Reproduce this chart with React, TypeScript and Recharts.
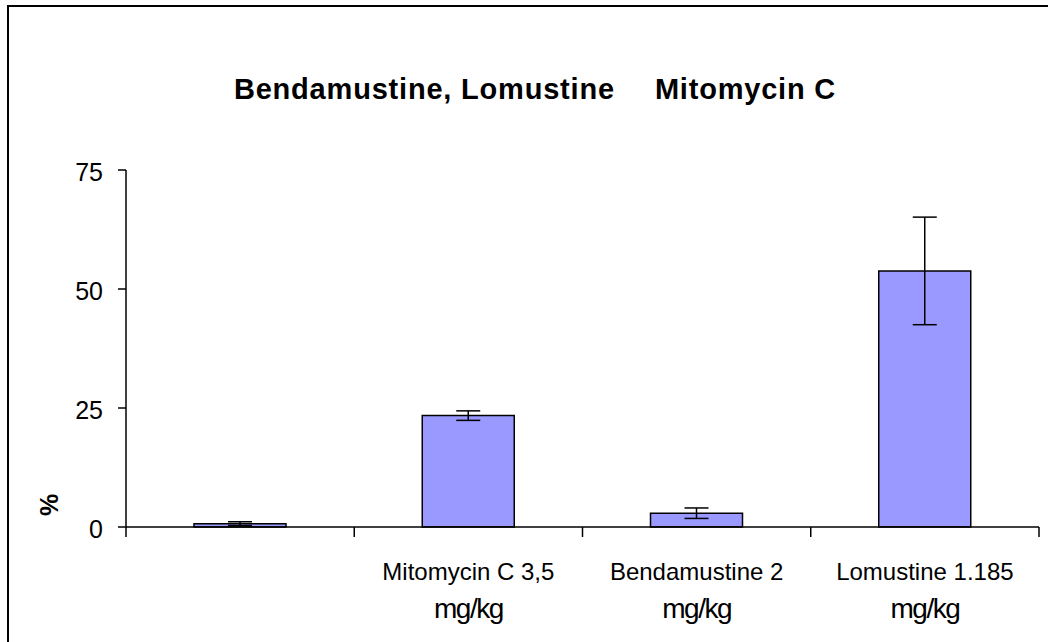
import { BarChart, Bar, XAxis, YAxis, ErrorBar } from "recharts";

// categories (first group has no label in the original)
const CATEGORY_KEYS = ["control", "mitomycin", "bendamustine", "lomustine"];
const LABEL_LINE1 = ["", "Mitomycin C 3,5", "Bendamustine 2", "Lomustine 1.185"];
const LABEL_LINE2 = ["", "mg/kg", "mg/kg", "mg/kg"];

// % values and error (+/-)
const VALUES = [0.7, 23.4, 2.9, 53.8];
const ERRORS = [0.4, 1.0, 1.1, 11.3];

const Y_TICKS = [0, 25, 50, 75];

const TITLE_LEFT = "Bendamustine, Lomustine";
const TITLE_RIGHT = "Mitomycin C";

const FONT = '"Liberation Sans", Arial, Helvetica, sans-serif';

const CHART_W = 1039;
const CHART_H = 635;
const MARGIN = { top: 163, right: 9, left: 0, bottom: 0 };
const Y_AXIS_W = 117;
const BAND = (CHART_W - MARGIN.left - MARGIN.right - Y_AXIS_W) / CATEGORY_KEYS.length;

const data = CATEGORY_KEYS.map((key, i) => ({
    key,
    value: VALUES[i],
    err: ERRORS[i],
}));

function CategoryTick(props: any) {
    const { x, y, payload } = props;
    const i = CATEGORY_KEYS.indexOf(payload.value);
    const half = payload.offset ? payload.offset : BAND / 2;
    return (
        <g>
            <line x1={x - half} x2={x - half} y1={y} y2={y + 10} stroke="#000" strokeWidth={1.5} />
            {i === CATEGORY_KEYS.length - 1 && (
                <line x1={x + half} x2={x + half} y1={y} y2={y + 10} stroke="#000" strokeWidth={1.5} />
            )}
            <text x={x} y={y + 53} textAnchor="middle" fontSize={24} fill="#000" fontFamily={FONT}>
                {LABEL_LINE1[i]}
            </text>
            <text
                x={x}
                y={y + 91}
                textAnchor="middle"
                fontSize={28}
                letterSpacing={-1.5}
                fill="#000"
                fontFamily={FONT}
            >
                {LABEL_LINE2[i]}
            </text>
        </g>
    );
}

function ValueTick(props: any) {
    const { x, y, payload } = props;
    return (
        <text x={x} y={y + 11} textAnchor="end" fontSize={25} fill="#000" fontFamily={FONT}>
            {payload.value}
        </text>
    );
}

export default function App() {
    return (
        <div
            style={{
                position: "absolute",
                left: 7,
                top: 5,
                width: CHART_W + 2,
                height: CHART_H + 2,
                boxSizing: "border-box",
                borderLeft: "2px solid #000",
                borderTop: "2px solid #000",
                background: "#fff",
                overflow: "hidden",
                fontFamily: FONT,
            }}
        >
            <div
                style={{
                    position: "absolute",
                    left: 526,
                    top: 68,
                    transform: "translateX(-50%)",
                    whiteSpace: "nowrap",
                    fontSize: 29,
                    lineHeight: "29px",
                    fontWeight: "bold",
                    letterSpacing: 0.8,
                    color: "#000",
                }}
            >
                <span>{TITLE_LEFT}</span>
                <span style={{ marginLeft: 40 }}>{TITLE_RIGHT}</span>
            </div>
            <div
                style={{
                    position: "absolute",
                    left: 40,
                    top: 498,
                    transform: "translate(-50%, -50%) rotate(-90deg)",
                    fontSize: 25,
                    lineHeight: "25px",
                    fontWeight: "bold",
                    color: "#000",
                }}
            >
                %
            </div>
            <BarChart width={CHART_W} height={CHART_H} data={data} margin={MARGIN}>
                <XAxis
                    dataKey="key"
                    height={CHART_H - 520}
                    interval={0}
                    tickSize={0}
                    tickMargin={0}
                    tickLine={false}
                    axisLine={{ stroke: "#000", strokeWidth: 1.5 }}
                    tick={<CategoryTick />}
                />
                <YAxis
                    width={Y_AXIS_W}
                    domain={[0, 75]}
                    ticks={Y_TICKS}
                    interval={0}
                    tickSize={8}
                    tickMargin={15}
                    tickLine={{ stroke: "#000", strokeWidth: 1.5 }}
                    axisLine={{ stroke: "#000", strokeWidth: 1.5 }}
                    tick={<ValueTick />}
                />
                <Bar
                    dataKey="value"
                    barSize={92}
                    fill="#9999FF"
                    stroke="#000"
                    strokeWidth={1.5}
                    isAnimationActive={false}
                >
                    <ErrorBar
                        dataKey="err"
                        direction="y"
                        width={12}
                        stroke="#000"
                        strokeWidth={1.5}
                        isAnimationActive={false}
                    />
                </Bar>
            </BarChart>
        </div>
    );
}
